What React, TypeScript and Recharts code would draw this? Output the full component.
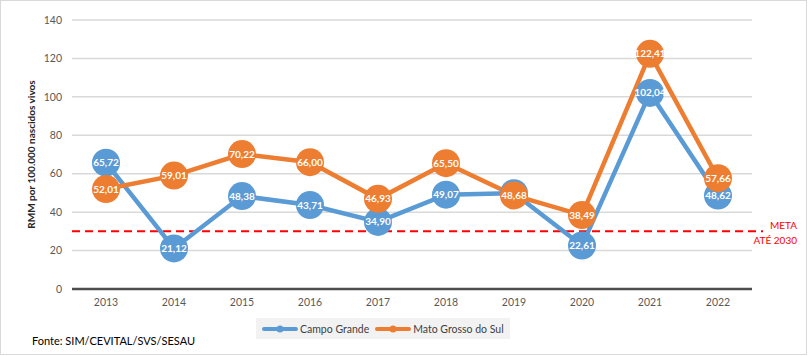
import {
  LineChart, Line, XAxis, YAxis, CartesianGrid, ReferenceLine, Legend,
} from 'recharts';

const years = ['2013', '2014', '2015', '2016', '2017', '2018', '2019', '2020', '2021', '2022'];
const campoGrande = [65.72, 21.12, 48.38, 43.71, 34.9, 49.07, 49.86, 22.61, 102.04, 48.62];
const matoGrossoDoSul = [52.01, 59.01, 70.22, 66.0, 46.93, 65.5, 48.68, 38.49, 122.41, 57.66];
const yTicks = [0, 20, 40, 60, 80, 100, 120, 140];
const meta = 30;

const BLUE = '#5b9bd5';
const ORANGE = '#ed7d31';

const data = years.map((year, i) => ({
  year,
  cg: campoGrande[i],
  ms: matoGrossoDoSul[i],
}));

const fmt = (v: number) => v.toFixed(2).replace('.', ',');

// circle marker with the value written inside (Excel style)
const makeDot = (color: string, key: string) => (p: any) => {
  const { cx, cy, index, payload } = p;
  return (
    <g key={`${key}-${index}`}>
      <circle cx={cx} cy={cy} r={14} fill={color} />
      <text
        x={cx}
        y={cy}
        dy={3.5}
        textAnchor="middle"
        fill="#fff"
        fontSize={10}
        fontWeight="bold"
      >
        {fmt(payload[key])}
      </text>
    </g>
  );
};

const MetaLine = (p: any) => {
  const { x1, y1, x2, y2 } = p;
  return (
    <g>
      <line x1={x1} y1={y1} x2={x2 + 11} y2={y2} stroke="#ff0000" strokeWidth={2} strokeDasharray="8 5" />
      <text x={797} y={y1 - 2} textAnchor="end" fill="#ff0000" fontSize={10}>META</text>
      <text x={797} y={y1 + 13} textAnchor="end" fill="#ff0000" fontSize={10}>ATÉ 2030</text>
    </g>
  );
};

const LegendBox = (props: any) => {
  const { payload = [] } = props;
  return (
    <div
      style={{
        display: 'flex', alignItems: 'center', background: '#f2f2f2', whiteSpace: 'nowrap',
        height: 21, paddingLeft: 6, fontSize: 10.5, color: '#404040',
      }}
    >
      {payload.map((e: any) => (
        <span key={e.value} style={{ display: 'flex', alignItems: 'center', marginRight: 6 }}>
          <svg width={36} height={8} style={{ marginRight: 2 }}>
            <line x1={2} y1={4} x2={34} y2={4} stroke={e.color} strokeWidth={4} strokeLinecap="round" />
            <circle cx={18} cy={4} r={3.5} fill={e.color} />
          </svg>
          {e.value}
        </span>
      ))}
    </div>
  );
};

export default function App() {
  return (
    <div style={{ position: 'absolute', left: 0, top: 0, width: 810, height: 356, background: '#fff', fontFamily: 'Lato, sans-serif' }}>
      <div style={{ position: 'absolute', left: 0, top: 0, width: 807, height: 355, border: '1px solid #d9d9d9', boxSizing: 'border-box' }} />
      <div style={{ position: 'absolute', left: 0, top: 0 }}>
        <LineChart width={810} height={356} data={data} margin={{ top: 20, right: 58, left: 0, bottom: 37 }}>
          <CartesianGrid vertical={false} stroke="#d9d9d9" strokeWidth={1.5} />
          <XAxis
            dataKey="year"
            padding={{ left: 34, right: 34 }}
            tickLine={false}
            tickSize={0}
            tickMargin={10}
            height={30}
            axisLine={{ stroke: '#4d4d4d', strokeWidth: 2.5 }}
            tick={{ fill: '#595959', fontSize: 10.5 }}
          />
          <YAxis
            width={72}
            domain={[0, 140]}
            ticks={yTicks}
            axisLine={false}
            tickLine={false}
            tickSize={0}
            tickMargin={10}
            tick={{ fill: '#595959', fontSize: 10.5 }}
            label={{
              content: (lp: any) => {
                const vb = lp.viewBox;
                return (
                  <text
                    transform={`translate(31, ${vb.y + vb.height / 2}) rotate(-90)`}
                    textAnchor="middle"
                    dy={3.5}
                    fill="#262626"
                    fontSize={10}
                    fontWeight="bold"
                  >
                    RMM por 100.000 nascidos vivos
                  </text>
                );
              },
            }}
          />
          <ReferenceLine y={meta} shape={<MetaLine />} />
          <Legend
            layout="horizontal"
            verticalAlign="middle"
            align="center"
            wrapperStyle={{ top: 318, left: 256, width: 'auto' }}
            content={<LegendBox />}
          />
          <Line
            name="Campo Grande"
            dataKey="cg"
            stroke={BLUE}
            strokeWidth={4.5}
            dot={makeDot(BLUE, 'cg')}
            activeDot={false}
            isAnimationActive={false}
          />
          <Line
            name="Mato Grosso do Sul"
            dataKey="ms"
            stroke={ORANGE}
            strokeWidth={4.5}
            dot={makeDot(ORANGE, 'ms')}
            activeDot={false}
            isAnimationActive={false}
          />
        </LineChart>
      </div>
      <div style={{ position: 'absolute', left: 32, top: 334, fontSize: 11, color: '#000' }}>
        Fonte: SIM/CEVITAL/SVS/SESAU
      </div>
    </div>
  );
}
